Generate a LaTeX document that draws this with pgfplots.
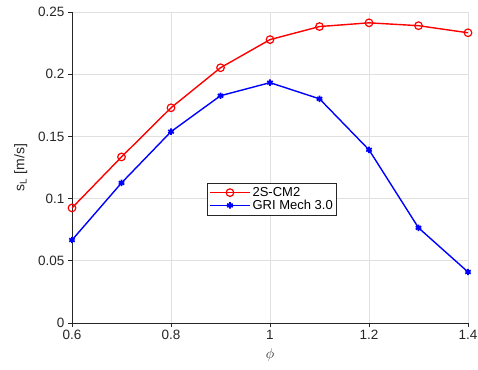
\documentclass[border=0pt]{standalone}
\usepackage{fontspec}
\setmainfont{Liberation Sans}
\usepackage{pgfplots}
\pgfplotsset{compat=1.18}
\definecolor{axgray}{gray}{0.15}
\definecolor{gridgray}{gray}{0.88}
\begin{document}
\begin{tikzpicture}
\begin{axis}[
  scale only axis,
  width=396pt, height=311pt,
  xmin=0.6, xmax=1.4, ymin=0, ymax=0.25,
  xtick={0.6,0.8,1.0,1.2,1.4},
  ytick={0,0.05,0.1,0.15,0.2,0.25},
  xticklabels={0.6,0.8,1,1.2,1.4},
  yticklabels={0,0.05,0.1,0.15,0.2,0.25},
  axis x line*=bottom, axis y line*=left,
  axis line style={-, axgray, line width=0.7pt},
  tick align=outside,
  major tick length=4pt,
  tick style={axgray, line width=0.7pt},
  grid=major,
  major grid style={gridgray, line width=0.7pt},
  ticklabel style={font=\fontsize{13.5}{15}\selectfont, text=axgray},
  xlabel={$\phi$},
  ylabel={s\textsubscript{L} [m/s]},
  label style={font=\fontsize{14}{16}\selectfont, text=axgray},
  ylabel style={yshift=4pt},
  xlabel style={yshift=-2pt},
  legend style={at={(0.341,0.45)}, anchor=north west, draw=axgray, line width=0.6pt,
     font=\fontsize{13}{15}\selectfont, inner sep=2pt, row sep=-2pt},
  legend cell align=left,
  legend image code/.code={
    \draw[mark repeat=2, mark phase=2] plot coordinates {(0cm,0cm) (0.7cm,0cm) (1.4cm,0cm)};
  },
]
\addplot[red, line width=1.4pt, mark=o, mark size=3.8pt, mark options={line width=1.2pt}] coordinates {
(0.6,0.0925) (0.7,0.1335) (0.8,0.1730) (0.9,0.2052) (1.0,0.2278) (1.1,0.2383) (1.2,0.2413) (1.3,0.2390) (1.4,0.2333)
};
\addlegendentry{2S-CM2}
\addplot[blue, line width=1.4pt, mark=asterisk, mark size=3.2pt, mark options={line width=1.8pt}] coordinates {
(0.6,0.0667) (0.7,0.1126) (0.8,0.1538) (0.9,0.1827) (1.0,0.1932) (1.1,0.1802) (1.2,0.1392) (1.3,0.0765) (1.4,0.0410)
};
\addlegendentry{GRI Mech 3.0}
\end{axis}
\pgfresetboundingbox
\path (-72pt,-46pt) rectangle (406pt,323pt);
\end{tikzpicture}
\end{document}
